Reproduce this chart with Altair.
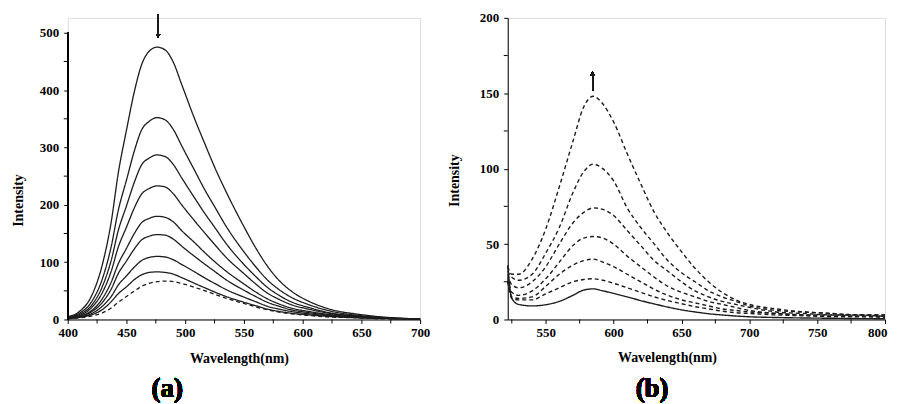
import altair as alt
import pandas as pd

# ---------------- Panel (a) data ----------------
wl_a = [400, 410, 420, 430, 437, 443, 450, 457, 463, 469, 476, 483, 490, 497,
        508, 517, 525, 535, 550, 560, 570, 580, 590, 605, 625, 648, 670, 700]
a_c1 = [5, 14, 40, 100, 170, 255, 330, 400, 445, 467, 475, 470, 448, 410,
        350, 305, 266, 222, 162, 125, 93, 68, 50, 32, 17, 9, 4, 1]
a_c2 = [4, 11, 30, 74, 127, 190, 243, 296, 331, 345, 352, 348, 331, 303,
        260, 225, 197, 162, 118, 92, 69, 52, 39, 26, 14, 7, 3, 1]
a_c3 = [3, 9, 24, 60, 103, 155, 198, 241, 270, 281, 287, 284, 270, 247,
        212, 184, 161, 132, 96, 75, 56, 42, 31, 21, 11, 6, 3, 1]
a_c4 = [3, 7, 20, 49, 84, 126, 161, 196, 219, 228, 233, 231, 219, 200,
        172, 150, 131, 108, 80, 62, 46, 35, 26, 18, 10, 5, 2, 1]
a_c5 = [2, 6, 15, 38, 65, 97, 124, 151, 169, 176, 180, 178, 170, 155,
        134, 116, 101, 84, 62, 48, 36, 27, 20, 14, 8, 4, 2, 1]
a_c6 = [2, 5, 13, 31, 53, 80, 102, 124, 139, 145, 148, 147, 140, 128,
        110, 96, 84, 69, 51, 40, 30, 23, 17, 12, 7, 4, 2, 1]
a_c7 = [2, 4, 10, 24, 40, 60, 76, 92, 103, 108, 110, 109, 104, 96,
        83, 72, 63, 52, 39, 31, 23, 18, 14, 10, 6, 3, 2, 1]
a_c8 = [2, 4, 8, 18, 31, 45, 57, 70, 78, 82, 83, 82, 79, 73,
        63, 55, 48, 40, 30, 24, 18, 14, 11, 8, 5, 3, 2, 1]
a_c9 = [1, 3, 6, 12, 20, 30, 40, 50, 58, 63, 66, 67, 66, 63,
        56, 50, 44, 37, 28, 22, 17, 13, 10, 7, 4, 3, 1, 1]
a_series = [a_c1, a_c2, a_c3, a_c4, a_c5, a_c6, a_c7, a_c8, a_c9]
a_styles = ["solid"] * 8 + ["dashed"]
a_xlabels = [400, 450, 500, 550, 600, 650, 700]
a_xminor = [425, 475, 525, 575, 625, 675]
a_ylabels = [0, 100, 200, 300, 400, 500]
a_yminor = [50, 150, 250, 350, 450]

# ---------------- Panel (b) data ----------------
wl_b = [522, 525, 530, 540, 550, 560, 570, 578, 585, 592, 600, 610, 620,
        630, 640, 650, 660, 670, 680, 690, 700, 720, 740, 760, 780, 800]
b_c1 = [35, 30, 30, 40, 60, 88, 118, 141, 148, 143, 131, 110, 90,
        71, 57, 45, 34, 25, 18, 13, 10, 7, 5, 4, 3, 3]
b_c2 = [32, 28, 26, 30, 44, 61, 84, 98, 103, 100, 92, 74, 61,
        50, 39, 31, 25, 19, 15, 12, 9, 6, 5, 4, 3, 3]
b_c3 = [30, 23, 21, 25, 35, 50, 64, 71, 74, 73, 69, 59, 49,
        39, 32, 25, 19, 15, 12, 10, 8, 5, 4, 3, 3, 2]
b_c4 = [28, 18, 16, 19, 27, 38, 49, 54, 55, 54, 50, 42, 35,
        28, 22, 18, 15, 12, 10, 8, 6, 4, 3, 3, 2, 2]
b_c5 = [26, 15, 14, 15, 22, 30, 36, 39, 40, 38, 35, 30, 25,
        20, 16, 13, 11, 9, 7, 6, 5, 4, 3, 2, 2, 2]
b_c6 = [25, 14, 13, 13, 17, 21, 25, 26.5, 27, 26, 24, 21, 18,
        15, 12.5, 10.5, 8.5, 7, 5.5, 4.5, 4, 3, 2.5, 2, 2, 1.5]
b_c7 = [36, 14, 10, 9, 9.8, 12, 16, 19.5, 20.3, 19, 17.3, 15, 12.5,
        10.3, 8.2, 6.4, 5, 3.8, 3, 2.3, 1.8, 1.3, 1, 0.8, 0.6, 0.5]
b_series = [b_c1, b_c2, b_c3, b_c4, b_c5, b_c6, b_c7]
b_styles = ["dashed"] * 6 + ["solid"]
b_xlabels = [550, 600, 650, 700, 750, 800]
b_xminor = [525, 575, 625, 675, 725, 775]
b_ylabels = [0, 50, 100, 150, 200]
b_yminor = [25, 75, 125, 175]

a_rows = []
for i, (vals, st) in enumerate(zip(a_series, a_styles)):
    for w, v in zip(wl_a, vals):
        a_rows.append({"wl": w, "I": v, "s": f"a{i}", "style": st})
df_a = pd.DataFrame(a_rows)

b_rows = []
for i, (vals, st) in enumerate(zip(b_series, b_styles)):
    for w, v in zip(wl_b, vals):
        b_rows.append({"wl": w, "I": v, "s": f"b{i}", "style": st})
df_b = pd.DataFrame(b_rows)

FONT = "Liberation Serif"
INK = "#1c1c1c"
H = 303
TICK = 4

axis_common = dict(
    labelFont=FONT, labelFontSize=13, labelFontWeight="bold", labelColor="black",
    titleFont=FONT, titleFontSize=14, titleFontWeight="bold", titleColor="black",
    tickColor="black", tickSize=TICK, grid=False, domainColor="black",
    labelOverlap=False,
)


def minor_ticks(xvals, yvals, height):
    dx = pd.DataFrame({"wl": xvals})
    dy = pd.DataFrame({"I": yvals})
    tx = alt.Chart(dx).mark_rule(color="black", strokeWidth=1).encode(
        x="wl:Q", y=alt.value(height), y2=alt.value(height + TICK))
    ty = alt.Chart(dy).mark_rule(color="black", strokeWidth=1).encode(
        y="I:Q", x=alt.value(0), x2=alt.value(-TICK))
    return tx, ty


# ---------------- Panel (a) ----------------
xa = alt.X("wl:Q", scale=alt.Scale(domain=[400, 700], nice=False, zero=False),
           axis=alt.Axis(values=a_xlabels, labelFlush=False,
                         title="Wavelength(nm)", titleX=172, titleY=39,
                         titleBaseline="middle", labelPadding=3, **axis_common))
ya = alt.Y("I:Q", scale=alt.Scale(domain=[0, 526.04], nice=False),
           axis=alt.Axis(values=a_ylabels, labelFlush=False,
                         title="Intensity", titleX=-49, titleY=183,
                         titleBaseline="middle", titleAngle=-90,
                         labelPadding=5, domain=False, **axis_common))

lines_a = alt.Chart(df_a).mark_line(interpolate="monotone", strokeWidth=1.3, color=INK).encode(
    x=xa, y=ya, detail="s:N",
    strokeDash=alt.StrokeDash("style:N", scale=alt.Scale(domain=["solid", "dashed"],
                                                         range=[[1, 0], [4, 3]]), legend=None),
)
yline_a = alt.Chart(df_a).mark_rule(color="black", strokeWidth=1).encode(
    x=alt.value(0), y=alt.datum(0), y2=alt.datum(500))
arrow_a = alt.Chart(df_a).mark_rule(color=INK, strokeWidth=1).encode(
    x=alt.datum(477), y=alt.value(-3), y2=alt.value(17))
head_a = alt.Chart(df_a).mark_point(shape="triangle-down", filled=True, size=18,
                                    color=INK, opacity=1).encode(
    x=alt.datum(477), y=alt.value(18))
cap_a = alt.Chart(df_a).mark_text(text="(a)", font=FONT, fontSize=27, fontWeight="bold",
                                  color="black", baseline="middle").encode(
    x=alt.value(100), y=alt.value(373))
mtx_a, mty_a = minor_ticks(a_xminor, a_yminor, H)

panel_a = alt.layer(lines_a, yline_a, mtx_a, mty_a, arrow_a, head_a, cap_a).properties(
    width=354, height=H)

# ---------------- Panel (b) ----------------
xb = alt.X("wl:Q", scale=alt.Scale(domain=[522, 800], nice=False, zero=False),
           axis=alt.Axis(values=b_xlabels, labelFlush=1, labelFlushOffset=2,
                         title="Wavelength(nm)", titleX=160, titleY=38,
                         titleBaseline="middle", labelPadding=3, **axis_common))
yb = alt.Y("I:Q", scale=alt.Scale(domain=[0, 200], nice=False),
           axis=alt.Axis(values=b_ylabels, labelFlush=False,
                         title="Intensity", titleX=-53, titleY=163,
                         titleBaseline="middle", titleAngle=-90,
                         labelPadding=5, **axis_common))

lines_b = alt.Chart(df_b).mark_line(interpolate="monotone", strokeWidth=1.4, color=INK).encode(
    x=xb, y=yb, detail="s:N",
    strokeDash=alt.StrokeDash("style:N", scale=alt.Scale(domain=["solid", "dashed"],
                                                         range=[[1, 0], [6, 5]]), legend=None),
)
arrow_b = alt.Chart(df_b).mark_rule(color=INK, strokeWidth=1).encode(
    x=alt.datum(584.5), y=alt.value(73), y2=alt.value(56))
head_b = alt.Chart(df_b).mark_point(shape="triangle-up", filled=True, size=18,
                                    color=INK, opacity=1).encode(
    x=alt.datum(584.5), y=alt.value(56))
cap_b = alt.Chart(df_b).mark_text(text="(b)", font=FONT, fontSize=27, fontWeight="bold",
                                  color="black", baseline="middle").encode(
    x=alt.value(145), y=alt.value(373))
mtx_b, mty_b = minor_ticks(b_xminor, b_yminor, H)

panel_b = alt.layer(lines_b, mtx_b, mty_b, arrow_b, head_b, cap_b).properties(
    width=379, height=H)

chart = alt.HConcatChart(hconcat=[panel_a, panel_b], spacing=88, bounds="flush").properties(
    padding={"left": 3, "top": 2, "right": 0, "bottom": 0}
).configure_view(stroke=None).configure(background="white", font=FONT)

chart.save("out.html", embed_options={"renderer": "svg", "actions": False})
